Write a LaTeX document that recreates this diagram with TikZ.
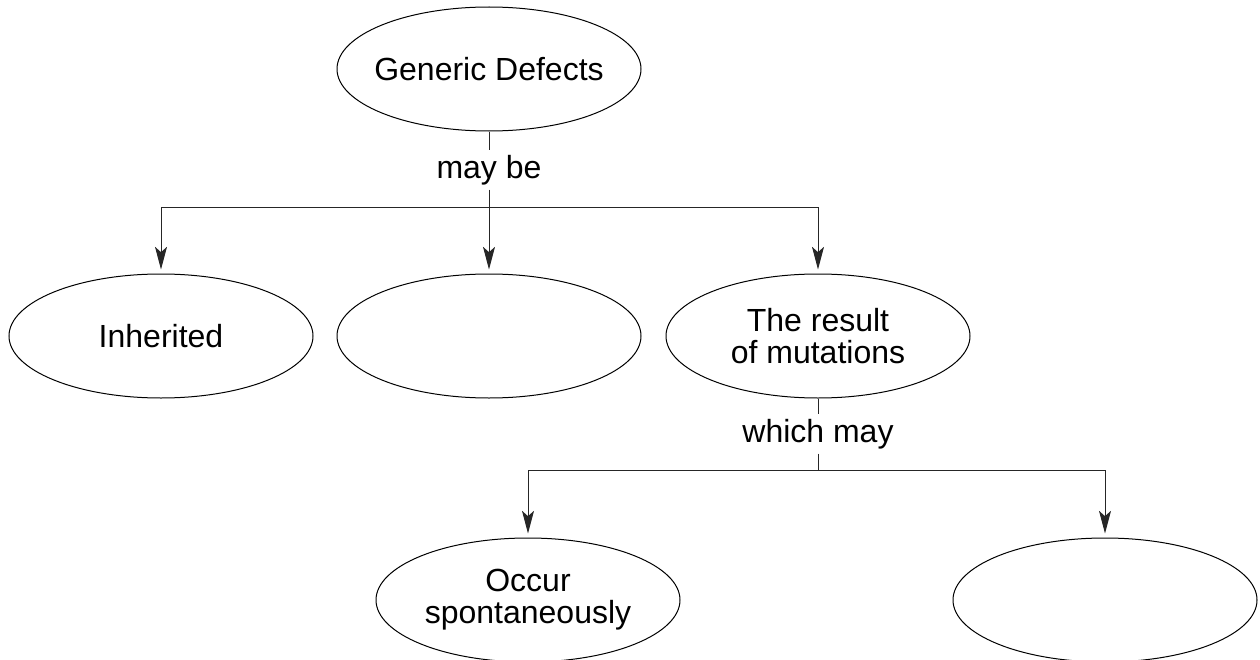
\documentclass[tikz,border=0pt]{standalone}
\usepackage{fontspec}
\setmainfont{Liberation Sans}
\usetikzlibrary{shapes.geometric,arrows.meta}
\begin{document}
\begin{tikzpicture}[x=0.75pt,y=-0.75pt,
  txt/.style={font=\fontsize{24}{24}\selectfont,align=center,inner sep=0pt},
  concept/.style={ellipse,draw,line width=0.75pt,minimum width=228pt,minimum height=93pt,inner sep=0pt},
  lbl/.style={txt,minimum height=29pt},
  link/.style={draw,line width=0.75pt,color=black!85},
  arr/.style={link,-{Stealth[length=17pt,width=9pt,inset=4pt]},shorten >=3pt}]
\clip (0,0) rectangle (1260,660);
% concepts
\node[concept,label={[txt]center:Generic Defects}] (gd) at (489,69) {};
\node[concept,label={[txt]center:Inherited}] (inh) at (161,336) {};
\node[concept] (mid) at (489,336) {};
\node[concept,label={[txt]center:The result\\of mutations}] (mut) at (818,336) {};
\node[concept,label={[txt]center:Occur\\spontaneously}] (occ) at (528,600) {};
\node[concept] (blank) at (1105,600) {};
% linking phrases
\node[lbl] (maybe) at (489,170) {may be};
\node[lbl] (which) at (818,434) {which may};
\coordinate (j1) at (489,207);
\coordinate (j2) at (818,470);
% connectors
\draw[link] (gd) -- (maybe);
\draw[arr] (maybe) -- (mid);
\draw[arr] (j1) -| (inh);
\draw[arr] (j1) -| (mut);
\draw[link] (mut) -- (which);
\draw[link] (which) -- (j2);
\draw[arr] (j2) -| (occ);
\draw[arr] (j2) -| (blank);
\end{tikzpicture}
\end{document}
